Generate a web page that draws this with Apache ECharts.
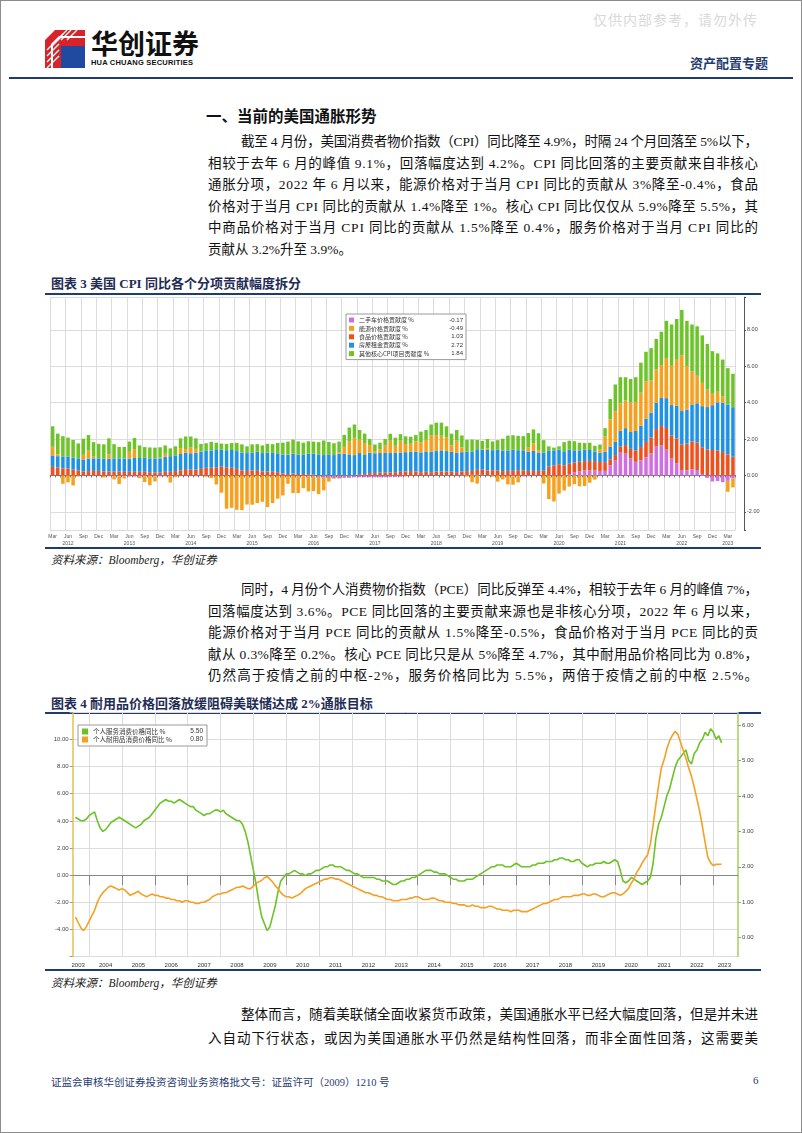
<!DOCTYPE html>
<html><head><meta charset="utf-8">
<script src="https://cdn.jsdelivr.net/npm/echarts@6/dist/echarts.min.js"></script>
<style>
html,body{margin:0;padding:0;background:#fff;}
#page{position:relative;width:802px;height:1133px;box-sizing:border-box;border:1px solid #8c8c8c;overflow:hidden;font-family:"Liberation Serif","Noto Sans CJK SC",serif;color:#111;}
.abs{position:absolute;white-space:nowrap;}
.jl{position:absolute;display:inline-block;white-space:nowrap;font-size:13.5px;line-height:18px;}
.rule{position:absolute;background:#1f3b70;}
.ctitle{position:absolute;white-space:nowrap;font-size:13px;font-weight:bold;color:#1f2d55;font-family:"Liberation Serif","Noto Sans CJK SC",serif;}
.src{position:absolute;white-space:nowrap;font-size:11.5px;font-style:italic;color:#222;}
</style></head>
<body>
<div id="page">
  <div class="abs" style="left:592px;top:8px;font-size:14px;color:#d9d9d9;letter-spacing:1px;">仅供内部参考，请勿外传</div>
  <svg class="abs" style="left:44px;top:29px" width="40" height="38" viewBox="0 0 40 38">
    <polygon points="0,10 10,0 40,0 40,6 14,6 6,14 6,38 0,38" fill="#d9232b"/>
    <polygon points="8,16 16,8 40,8 40,38 8,38" fill="#d9232b"/>
    <polygon points="16,16 40,16 40,38 16,38" fill="#1f4aa0"/>
    <g stroke="#fff" stroke-width="1.2">
      <line x1="2" y1="38" x2="14" y2="26"/><line x1="2" y1="32" x2="14" y2="20"/><line x1="2" y1="26" x2="14" y2="14"/><line x1="2" y1="20" x2="18" y2="4"/><line x1="8" y1="14" x2="22" y2="0"/><line x1="16" y1="10" x2="26" y2="0"/><line x1="22" y1="10" x2="32" y2="0"/>
    </g>
  </svg>
  <div class="abs" style="left:90px;top:27px;font-size:27px;font-weight:bold;color:#111;font-family:'Noto Sans CJK SC';letter-spacing:0px;line-height:30px;">华创证券</div>
  <div class="abs" style="left:90px;top:57px;font-size:7.5px;font-weight:bold;color:#111;font-family:'Liberation Sans';letter-spacing:0.2px;">HUA CHUANG SECURITIES</div>
  <div class="abs" style="left:689px;top:52px;font-size:13px;font-weight:bold;color:#1f3b70;">资产配置专题</div>
  <div class="rule" style="left:8px;top:76px;width:784px;height:2px;"></div>

  <div class="abs" style="left:205px;top:103px;font-size:15.5px;font-weight:bold;color:#111;">一、当前的美国通胀形势</div>

  <div class="jl" data-w="517" style="left:240px;top:132px;">截至 4 月份，美国消费者物价指数（CPI）同比降至 4.9%，时隔 24 个月回落至 5%以下，</div>
  <div class="jl" data-w="550" style="left:207px;top:154px;">相较于去年 6 月的峰值 9.1%，回落幅度达到 4.2%。CPI 同比回落的主要贡献来自非核心</div>
  <div class="jl" data-w="550" style="left:207px;top:175px;">通胀分项，2022 年 6 月以来，能源价格对于当月 CPI 同比的贡献从 3%降至-0.4%，食品</div>
  <div class="jl" data-w="550" style="left:207px;top:197px;">价格对于当月 CPI 同比的贡献从 1.4%降至 1%。核心 CPI 同比仅仅从 5.9%降至 5.5%，其</div>
  <div class="jl" data-w="550" style="left:207px;top:218px;">中商品价格对于当月 CPI 同比的贡献从 1.5%降至 0.4%，服务价格对于当月 CPI 同比的</div>
  <div class="jl" style="left:207px;top:240px;">贡献从 3.2%升至 3.9%。</div>

  <div class="ctitle" style="left:50px;top:272px;">图表 3 美国 CPI 同比各个分项贡献幅度拆分</div>
  <div class="rule" style="left:44px;top:292px;width:716px;height:1.5px;"></div>
  <div id="chart3" class="abs" style="left:40px;top:294px;width:730px;height:252px;"></div>
  <div class="rule" style="left:44px;top:546px;width:716px;height:1.5px;"></div>
  <div class="src" style="left:50px;top:550px;">资料来源：Bloomberg，华创证券</div>

  <div class="jl" data-w="517" style="left:240px;top:580px;">同时，4 月份个人消费物价指数（PCE）同比反弹至 4.4%，相较于去年 6 月的峰值 7%，</div>
  <div class="jl" data-w="550" style="left:207px;top:602px;">回落幅度达到 3.6%。PCE 同比回落的主要贡献来源也是非核心分项，2022 年 6 月以来，</div>
  <div class="jl" data-w="550" style="left:207px;top:623px;">能源价格对于当月 PCE 同比的贡献从 1.5%降至-0.5%，食品价格对于当月 PCE 同比的贡</div>
  <div class="jl" data-w="550" style="left:207px;top:645px;">献从 0.3%降至 0.2%。核心 PCE 同比只是从 5%降至 4.7%，其中耐用品价格同比为 0.8%，</div>
  <div class="jl" data-w="550" style="left:207px;top:666px;">仍然高于疫情之前的中枢-2%，服务价格同比为 5.5%，两倍于疫情之前的中枢 2.5%。</div>

  <div class="ctitle" style="left:50px;top:692px;">图表 4 耐用品价格回落放缓阻碍美联储达成 2%通胀目标</div>
  <div class="rule" style="left:44px;top:711px;width:716px;height:1.5px;"></div>
  <div id="chart4" class="abs" style="left:40px;top:708px;width:730px;height:262px;"></div>
  <div class="rule" style="left:44px;top:968px;width:716px;height:1.5px;"></div>
  <div class="src" style="left:50px;top:973px;">资料来源：Bloomberg，华创证券</div>

  <div class="jl" data-w="517" style="left:240px;top:1005px;">整体而言，随着美联储全面收紧货币政策，美国通胀水平已经大幅度回落，但是并未进</div>
  <div class="jl" data-w="550" style="left:207px;top:1029px;">入自动下行状态，或因为美国通胀水平仍然是结构性回落，而非全面性回落，这需要美</div>

  <div class="abs" style="left:50px;top:1073px;font-size:10.5px;color:#1f3b70;">证监会审核华创证券投资咨询业务资格批文号：证监许可（2009）1210 号</div>
  <div class="abs" style="left:752px;top:1073px;font-size:11px;color:#1f3b70;">6</div>
</div>
<script>
// ---------- Chart 3 data: Mar 2012 - Apr 2023, contribution to CPI YoY (ppt) ----------
const cpiStart = [2012, 3];
const cpiNames = ['二手车价格贡献度 %','能源价格贡献度 %','食品价格贡献度 %','房屋租金贡献度 %','其他核心CPI项目贡献度 %'];
const cpiUsedCar = [
 0.01,0.0,-0.01,-0.01,-0.02,-0.02,-0.02,-0.02,-0.03,-0.03,
 -0.03,-0.04,-0.05,-0.05,-0.06,-0.06,-0.06,-0.06,-0.05,-0.05,-0.05,-0.05,
 -0.05,-0.05,-0.04,-0.04,-0.04,-0.04,-0.04,-0.03,-0.03,-0.03,-0.03,-0.03,
 -0.02,-0.02,-0.01,-0.01,-0.01,-0.01,-0.01,-0.01,-0.02,-0.02,-0.02,-0.03,
 -0.03,-0.03,-0.04,-0.05,-0.06,-0.07,-0.08,-0.09,-0.09,-0.1,-0.1,-0.1,
 -0.1,-0.1,-0.1,-0.1,-0.1,-0.1,-0.1,-0.1,-0.09,-0.08,-0.07,-0.05,
 -0.03,-0.02,-0.01,0.0,0.01,0.02,0.02,0.02,0.01,0.01,0.02,0.02,
 0.03,0.03,0.03,0.02,0.01,0.0,-0.03,-0.03,-0.05,-0.06,-0.05,-0.03,
 -0.03,-0.02,-0.01,-0.01,-0.03,-0.03,0.0,0.08,0.18,0.22,0.28,0.27,
 0.27,0.25,0.25,0.56,0.82,1.25,1.2,0.95,0.75,0.83,1.0,1.22,
 1.6,1.65,1.42,0.93,0.67,0.3,0.28,0.33,0.3,0.08,-0.13,-0.33,
 -0.31,-0.37,-0.3,-0.17];
const cpiEnergy = [
 0.48,0.11,-0.45,-0.37,-0.53,-0.04,0.25,0.43,0.09,-0.01,
 -0.08,0.24,-0.17,-0.42,-0.11,0.37,0.49,-0.09,-0.31,-0.49,-0.28,0.04,
 0.16,-0.34,-0.06,0.32,0.2,0.31,0.21,0.02,-0.04,-0.12,-0.47,-0.92,
 -1.81,-1.76,-1.88,-1.9,-1.59,-1.6,-1.51,-1.44,-1.72,-1.5,-1.26,-1.07,
 -0.43,-0.94,-0.93,-0.65,-0.82,-0.79,-0.95,-0.7,-0.21,-0.01,0.09,0.38,
 0.7,0.95,0.74,0.62,0.42,0.12,0.2,0.4,0.68,0.39,0.65,0.45,
 0.44,0.57,0.56,0.64,0.89,0.88,0.8,0.76,0.36,0.67,0.26,-0.06,
 -0.37,-0.45,0.02,0.08,-0.07,-0.34,-0.19,-0.46,-0.46,-0.32,-0.01,0.22,
 0.42,0.14,-0.43,-1.29,-1.4,-0.97,-0.83,-0.61,-0.48,-0.6,-0.58,-0.4,
 -0.23,0.18,0.85,1.49,1.68,1.5,1.52,1.61,1.59,1.82,2.07,1.77,
 1.84,1.81,2.21,2.16,2.53,3.07,2.4,1.81,1.51,1.28,0.96,0.63,
 0.58,0.34,-0.6,-0.49];
const cpiFood = [
 0.46,0.43,0.39,0.38,0.32,0.28,0.22,0.24,0.25,0.25,
 0.22,0.22,0.21,0.21,0.2,0.2,0.2,0.2,0.2,0.18,0.17,0.15,
 0.2,0.2,0.24,0.28,0.35,0.32,0.32,0.36,0.42,0.42,0.45,0.48,
 0.45,0.42,0.36,0.28,0.25,0.28,0.29,0.22,0.22,0.2,0.18,0.11,
 0.08,0.11,0.08,0.08,0.07,0.04,0.0,-0.03,-0.04,-0.06,-0.06,-0.03,
 -0.03,0.0,0.07,0.07,0.13,0.13,0.15,0.15,0.17,0.18,0.2,0.22,
 0.24,0.21,0.18,0.2,0.17,0.2,0.2,0.2,0.2,0.17,0.2,0.22,
 0.22,0.28,0.29,0.25,0.28,0.27,0.24,0.25,0.25,0.29,0.28,0.25,
 0.25,0.25,0.26,0.48,0.55,0.62,0.56,0.56,0.53,0.53,0.51,0.53,
 0.52,0.49,0.48,0.33,0.3,0.33,0.47,0.51,0.63,0.73,0.84,0.86,
 0.95,1.07,1.19,1.27,1.36,1.4,1.47,1.54,1.51,1.47,1.43,1.4,
 1.37,1.29,1.15,1.03];
const cpiShelter = [
 0.63,0.63,0.66,0.66,0.66,0.66,0.66,0.69,0.69,0.69,
 0.7,0.7,0.73,0.73,0.73,0.73,0.76,0.76,0.79,0.76,0.76,0.79,
 0.83,0.86,0.86,0.9,0.9,0.9,0.93,0.93,0.96,0.96,0.99,0.93,
 0.94,0.98,0.98,0.98,0.98,0.98,1.01,1.01,1.04,1.04,1.04,1.04,
 1.06,1.09,1.06,1.06,1.12,1.16,1.16,1.12,1.16,1.12,1.19,1.19,
 1.16,1.12,1.16,1.09,1.12,1.09,1.09,1.09,1.06,1.06,1.06,1.06,
 1.06,1.09,1.09,1.12,1.12,1.12,1.16,1.12,1.09,1.06,1.06,1.06,
 1.06,1.13,1.1,1.13,1.1,1.16,1.13,1.13,1.16,1.1,1.1,1.06,
 1.1,1.0,1.0,0.87,0.83,0.8,0.77,0.77,0.67,0.63,0.63,0.6,
 0.53,0.5,0.57,0.7,0.73,0.87,0.93,0.93,1.07,1.17,1.27,1.37,
 1.44,1.54,1.64,1.67,1.8,1.84,1.87,2.03,2.16,2.26,2.33,2.46,
 2.65,2.71,2.75,2.72];
const cpiOther = [
 1.12,1.13,1.11,1.04,0.97,0.82,0.89,0.86,0.8,0.8,
 0.79,0.88,0.78,0.63,0.64,0.56,0.61,0.69,0.57,0.6,0.6,0.57,
 0.46,0.43,0.5,0.54,0.69,0.61,0.58,0.42,0.39,0.47,0.36,0.34,
 0.34,0.38,0.45,0.45,0.37,0.45,0.42,0.42,0.48,0.48,0.56,0.65,
 0.72,0.77,0.73,0.66,0.69,0.66,0.67,0.8,0.68,0.65,0.58,0.66,
 0.77,0.73,0.53,0.52,0.33,0.36,0.36,0.36,0.38,0.45,0.36,0.42,
 0.39,0.35,0.58,0.54,0.61,0.68,0.72,0.6,0.64,0.59,0.66,0.66,
 0.66,0.51,0.46,0.52,0.48,0.51,0.65,0.81,0.8,0.79,0.78,0.8,
 0.76,0.93,0.68,0.25,0.15,0.18,0.5,0.5,0.5,0.42,0.36,0.4,
 0.31,0.28,0.45,1.12,1.47,1.45,1.28,1.3,1.36,1.65,1.62,1.78,
 1.67,1.83,2.04,2.27,2.24,2.49,2.48,2.59,2.72,2.61,2.51,2.34,
 2.11,2.03,2.0,1.84];
const cpiColors = ['#cf6fe0','#f7a11a','#f0501c','#1e93e6','#6cc426'];
const cpiTickLabels = [-2,0,2,4,6,8];

// ---------- Chart 4 data: Aug 2003 - Apr 2023, YoY % ----------
const pceAxisStart = [2003, 7], pceAxisEnd = [2023, 10];
const pceDataStart = [2003, 8];
const pceNames = ['个人服务消费价格同比 %','个人耐用品消费价格同比 %'];
const pceServices = [
 3.4,3.35,3.3,3.3,3.35,
 3.45,3.5,3.55,3.3,3.1,3.0,3.05,3.15,3.25,3.3,3.35,3.4,
 3.35,3.3,3.25,3.2,3.15,3.1,3.15,3.2,3.3,3.35,3.4,3.5,
 3.6,3.7,3.8,3.85,3.9,3.85,3.85,3.8,3.85,3.9,3.85,3.8,
 3.75,3.7,3.7,3.6,3.55,3.5,3.45,3.5,3.5,3.55,3.6,3.6,
 3.55,3.6,3.5,3.45,3.4,3.35,3.3,3.3,3.2,3.0,2.7,2.3,
 1.9,1.5,1.0,0.6,0.4,0.2,0.3,0.6,0.9,1.3,1.6,1.7,
 1.8,1.8,1.85,1.9,1.85,1.8,1.8,1.75,1.8,1.8,1.85,1.9,
 1.9,1.95,2.0,2.0,2.05,2.05,2.0,2.0,2.0,1.95,1.9,1.9,
 1.85,1.8,1.8,1.75,1.7,1.7,1.7,1.7,1.7,1.65,1.65,1.6,
 1.6,1.6,1.55,1.5,1.5,1.55,1.6,1.6,1.65,1.65,1.7,1.7,
 1.75,1.8,1.85,1.9,1.9,1.9,1.85,1.85,1.8,1.8,1.8,1.75,
 1.7,1.65,1.65,1.6,1.6,1.6,1.65,1.65,1.65,1.7,1.75,1.8,
 1.85,1.9,1.95,2.0,2.0,2.05,2.05,2.05,2.0,2.0,2.0,2.05,
 2.1,2.05,2.0,2.0,2.0,2.0,2.05,2.05,2.1,2.1,2.1,2.15,
 2.15,2.15,2.2,2.2,2.25,2.25,2.2,2.2,2.15,2.15,2.2,2.2,
 2.1,2.05,2.0,2.05,2.05,2.1,2.1,2.1,2.15,2.1,2.1,2.15,
 2.2,2.15,1.9,1.6,1.55,1.6,1.7,1.65,1.6,1.55,1.5,1.55,
 1.6,1.7,2.1,2.8,3.2,3.4,3.7,4.0,4.2,4.5,4.8,5.0,
 5.1,5.2,5.3,5.0,4.9,5.2,5.3,5.5,5.6,5.8,5.7,5.9,
 5.8,5.6,5.7,5.5];
const pceDurables = [
 -3.1,-3.5,-3.9,-4.1,-3.8,
 -3.4,-3.0,-2.6,-2.0,-1.6,-1.3,-1.1,-0.9,-0.8,-0.9,-1.0,-1.1,
 -1.0,-1.1,-1.3,-1.5,-1.4,-1.3,-1.2,-1.4,-1.5,-1.6,-1.5,-1.4,
 -1.5,-1.5,-1.6,-1.6,-1.7,-1.7,-1.8,-1.8,-1.9,-1.9,-2.0,-1.9,
 -1.9,-2.0,-2.0,-2.1,-2.1,-2.0,-2.0,-1.9,-1.8,-1.6,-1.5,-1.4,
 -1.4,-1.3,-1.3,-1.2,-1.1,-1.0,-0.9,-0.9,-0.8,-0.9,-1.0,-1.0,
 -0.8,-0.6,-0.5,-0.4,-0.2,-0.1,-0.3,-0.5,-0.8,-1.0,-1.3,-1.5,
 -1.6,-1.6,-1.7,-1.6,-1.5,-1.4,-1.2,-1.0,-0.9,-0.8,-0.7,-0.6,
 -0.5,-0.4,-0.3,-0.3,-0.2,-0.2,-0.3,-0.3,-0.4,-0.5,-0.6,-0.7,
 -0.8,-0.9,-1.0,-1.1,-1.2,-1.3,-1.3,-1.4,-1.5,-1.5,-1.6,-1.6,
 -1.7,-1.8,-1.8,-1.9,-1.9,-1.9,-1.8,-1.8,-1.8,-1.7,-1.7,-1.6,
 -1.6,-1.7,-1.8,-1.8,-1.8,-1.7,-1.7,-1.8,-1.9,-1.9,-2.0,-2.0,
 -2.0,-2.1,-2.1,-2.2,-2.2,-2.2,-2.3,-2.3,-2.2,-2.3,-2.3,-2.4,
 -2.4,-2.4,-2.3,-2.3,-2.4,-2.5,-2.5,-2.6,-2.6,-2.6,-2.7,-2.6,
 -2.6,-2.6,-2.7,-2.7,-2.7,-2.6,-2.5,-2.4,-2.3,-2.2,-2.1,-2.1,
 -2.0,-1.9,-1.8,-1.8,-1.7,-1.6,-1.6,-1.6,-1.6,-1.5,-1.5,-1.5,
 -1.4,-1.4,-1.5,-1.5,-1.4,-1.4,-1.5,-1.6,-1.6,-1.5,-1.4,-1.3,
 -1.3,-1.4,-1.5,-1.4,-1.2,-1.0,-0.6,-0.3,0.2,0.5,0.9,1.2,
 1.5,2.3,3.7,5.2,6.6,7.9,8.5,9.3,9.9,10.3,10.6,10.4,
 9.8,9.2,8.6,7.9,7.3,6.5,5.6,4.7,3.6,2.4,1.3,0.9,
 0.7,0.8,0.8,0.8];
const pceColors = ['#6cc326','#f5a023'];
const pceLeftTicks = [-4,-2,0,2,4,6,8,10];
const pceRightTicks = [0,1,2,3,4,5,6];

// ---------- helpers ----------
const MON = ['Jan','Feb','Mar','Apr','May','Jun','Jul','Aug','Sep','Oct','Nov','Dec'];
function monthRange(start, count){ const out=[]; let y=start[0], m=start[1]; for(let i=0;i<count;i++){ out.push(y+'-'+(m<10?'0':'')+m); m++; if(m>12){m=1;y++;} } return out; }
function ym(s){ const p=s.split('-'); return [+p[0], +p[1]]; }

// ---------- Chart 3 ----------
(function(){
  const cats = monthRange(cpiStart, cpiUsedCar.length);
  const lastIdx = cats.length-1;
  const order = [
    {name:cpiNames[0], data:cpiUsedCar, color:cpiColors[0]},
    {name:cpiNames[2], data:cpiFood, color:cpiColors[2]},
    {name:cpiNames[3], data:cpiShelter, color:cpiColors[3]},
    {name:cpiNames[1], data:cpiEnergy, color:cpiColors[1]},
    {name:cpiNames[4], data:cpiOther, color:cpiColors[4]}
  ];
  let pos=0, neg=0;
  const series = order.map(s=>{
    const v = s.data[lastIdx];
    let level; if(v>=0){ pos+=v; level=pos; } else { neg+=v; level=neg; }
    return {
      name:s.name, type:'bar', stack:'cpi', data:s.data, barWidth:3.5,
      itemStyle:{color:s.color}, emphasis:{disabled:true},
      markLine:{silent:true, symbol:'none', animation:false, lineStyle:{opacity:0},
        data:[{yAxis:level}],
        label:{show:true, position:'end', distance:9, formatter:v.toFixed(2), backgroundColor:s.color,
          color:(s.color==='#6cc426'||s.color==='#f7a11a')?'#222':'#fff', fontSize:5.5, padding:[1,2,0,2], fontFamily:'Liberation Sans'}}
    };
  });
  const latest = {}; [cpiUsedCar,cpiEnergy,cpiFood,cpiShelter,cpiOther].forEach((a,i)=>latest[cpiNames[i]]=a[lastIdx]);
  const qShow = (idx)=>{ const m = ym(cats[idx])[1]; return m%3===0; };
  const chart = echarts.init(document.getElementById('chart3'), null, {renderer:'canvas'});
  chart.setOption({
    animation:false,
    grid:{left:9.1, width:685.4, top:2.2, height:235.5, containLabel:false},
    legend:{data:cpiNames, orient:'vertical', left:305, top:19, itemWidth:5, itemHeight:5, itemGap:2.4,
      padding:[3,3,3,3], backgroundColor:'#fff', borderColor:'#9a9a9a', borderWidth:1, icon:'rect',
      textStyle:{fontSize:6, color:'#333', fontFamily:'Noto Sans CJK SC',
        rich:{n:{width:84, fontSize:6, color:'#333'}, v:{width:20, align:'right', fontSize:6, color:'#333', fontFamily:'Liberation Sans'}}},
      formatter:(n)=>'{n|'+n+'}{v|'+latest[n].toFixed(2)+'}'},
    xAxis:{type:'category', data:cats, boundaryGap:true,
      axisLine:{lineStyle:{color:'#777', width:1}},
      axisTick:{show:true, interval:0, length:2, lineStyle:{color:'#777'}},
      axisLabel:{interval:(i)=>qShow(i), fontSize:5, color:'#555', lineHeight:7, margin:3, fontFamily:'Liberation Sans',
        formatter:(v)=>{ const p=ym(v); let s=MON[p[1]-1]; if(p[1]===6 || (p[0]===2023 && p[1]===3)) s+='\n'+p[0]; return s; }},
      splitLine:{show:true, interval:(i)=>qShow(i), lineStyle:{color:'#dcdcdc', width:1}}},
    yAxis:{type:'value', position:'right', offset:8.5, min:-3, max:9.8, splitNumber:6,
      axisLine:{show:true, lineStyle:{color:'#555'}},
      axisTick:{show:true, length:2, lineStyle:{color:'#555'}},
      axisLabel:{fontSize:5.5, color:'#444', margin:3, fontFamily:'Liberation Sans',
        formatter:(v)=> cpiTickLabels.indexOf(v)>=0 ? v.toFixed(2) : ''},
      splitLine:{show:true, lineStyle:{color:'#dcdcdc'}}},
    series:series
  });
})();

// ---------- Chart 4 ----------
(function(){
  const cats = monthRange(pceAxisStart, (pceAxisEnd[0]-pceAxisStart[0])*12 + pceAxisEnd[1]-pceAxisStart[1] + 1);
  const offset = (pceDataStart[0]-pceAxisStart[0])*12 + pceDataStart[1]-pceAxisStart[1];
  const pad = (arr)=>{ const out = new Array(cats.length).fill(null); arr.forEach((v,i)=>out[i+offset]=v); return out; };
  const latest = {}; latest[pceNames[0]] = pceServices[pceServices.length-1]; latest[pceNames[1]] = pceDurables[pceDurables.length-1];
  const isJan = (i)=> ym(cats[i])[1]===1;
  const labelAt = (i)=>{ const p=ym(cats[i]); if(p[0]===2003) return p[1]===9; if(p[0]===2023) return p[1]===5; return p[1]===7; };
  const chart = echarts.init(document.getElementById('chart4'), null, {renderer:'canvas'});
  chart.setOption({
    animation:false,
    grid:{left:31.7, width:665.3, top:3.4, height:244, containLabel:false},
    legend:{data:pceNames, orient:'vertical', left:37, top:16, itemWidth:6, itemHeight:6, itemGap:1,
      padding:[3,4,3,4], backgroundColor:'#fff', borderColor:'#9a9a9a', borderWidth:1, icon:'rect',
      textStyle:{fontSize:6.5, color:'#333', fontFamily:'Noto Sans CJK SC',
        rich:{n:{width:88, fontSize:6.5, color:'#333'}, v:{width:22, align:'right', fontSize:6.5, color:'#333', fontFamily:'Liberation Sans'}}},
      formatter:(n)=>'{n|'+n+'}{v|'+latest[n].toFixed(2)+'}'},
    xAxis:{type:'category', data:cats, boundaryGap:false,
      axisLine:{lineStyle:{color:'#888'}},
      axisTick:{show:true, interval:(i)=>isJan(i), length:10, lineStyle:{color:'#888'}},
      axisLabel:{interval:(i)=>labelAt(i), formatter:(v)=>ym(v)[0], fontSize:6, color:'#333', margin:6, fontFamily:'Liberation Sans'},
      splitLine:{show:true, interval:(i)=>isJan(i), lineStyle:{color:'#dcdcdc'}}},
    yAxis:[
      {type:'value', position:'left', min:-6, max:12, interval:2,
        axisLine:{show:true, lineStyle:{color:'#e8bf52', width:1.5}},
        axisTick:{show:true, length:3, lineStyle:{color:'#999'}},
        axisLabel:{fontSize:6, color:'#444', margin:4, fontFamily:'Liberation Sans',
          formatter:(v)=> pceLeftTicks.indexOf(v)>=0 ? v.toFixed(2) : ''},
        splitLine:{show:true, lineStyle:{color:'#dcdcdc'}}},
      {type:'value', position:'right', min:-0.53, max:6.36,
        axisLine:{show:true, lineStyle:{color:'#a6d05a', width:1.5}},
        axisTick:{show:true, length:3, customValues:pceRightTicks, lineStyle:{color:'#999'}},
        axisLabel:{fontSize:6, color:'#444', margin:4, fontFamily:'Liberation Sans', customValues:pceRightTicks,
          formatter:(v)=> v.toFixed(2)},
        splitLine:{show:false}}
    ],
    series:[
      {name:pceNames[0], type:'line', yAxisIndex:1, data:pad(pceServices), showSymbol:false, symbol:'none',
        lineStyle:{color:pceColors[0], width:1.6}, itemStyle:{color:pceColors[0]}},
      {name:pceNames[1], type:'line', yAxisIndex:0, data:pad(pceDurables), showSymbol:false, symbol:'none',
        lineStyle:{color:pceColors[1], width:1.6}, itemStyle:{color:pceColors[1]}}
    ]
  });
})();

// ---------- justify text lines ----------
function fitLines(){
  document.querySelectorAll('.jl').forEach(el=>{
    if(!el.dataset.w) return;
    const w = +el.dataset.w;
    el.style.letterSpacing='0px';
    const nat = el.getBoundingClientRect().width;
    const n = Array.from(el.textContent).length;
    el.style.letterSpacing = ((w-nat)/(n-1))+'px';
  });
}
fitLines();
if(document.fonts && document.fonts.ready) document.fonts.ready.then(fitLines);
</script>
</body></html>
